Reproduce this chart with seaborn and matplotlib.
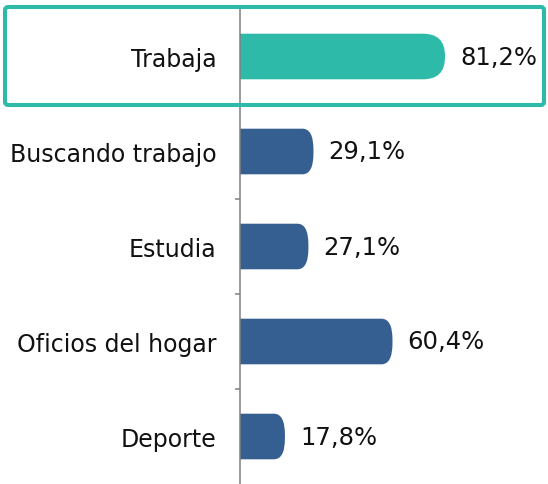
import matplotlib
matplotlib.use('Agg')
import matplotlib.pyplot as plt
import seaborn as sns
import pandas as pd
from matplotlib.patches import FancyBboxPatch
from matplotlib.ticker import FixedLocator
from matplotlib.transforms import IdentityTransform

categorias = ['Trabaja', 'Buscando trabajo', 'Estudia', 'Oficios del hogar', 'Deporte']
valores = [81.2, 29.1, 27.1, 60.4, 17.8]
etiquetas = ['81,2%', '29,1%', '27,1%', '60,4%', '17,8%']
colores = ['#2EBAA8', '#365F91', '#365F91', '#365F91', '#365F91']

sns.set_style('white')
plt.rcParams['font.family'] = ['DejaVu Sans']

df = pd.DataFrame({'cat': categorias, 'val': valores})

fig = plt.figure(figsize=(5.48, 4.85), dpi=100)
ax = fig.add_axes([240 / 548, 0, 308 / 548, 475 / 485])
sns.barplot(data=df, x='val', y='cat', hue='cat', palette=colores, saturation=1,
            legend=False, width=0.48, orient='h', ax=ax)
ax.set_xlim(0, 122)
ax.set_ylim(4.5, -0.5)

# pixel scale of the data units, for the rounded bar ends
sx = ax.transData.transform((1, 0))[0] - ax.transData.transform((0, 0))[0]
sy = abs(ax.transData.transform((0, 1))[1] - ax.transData.transform((0, 0))[1])

for p in list(ax.patches):
    x0, y0, w, h = p.get_x(), p.get_y(), p.get_width(), p.get_height()
    fc = p.get_facecolor()
    i = int(round(y0 + h / 2))
    p.remove()
    rx_px, ry_px = (22, 22) if i == 0 else (11, 21)
    rx, ry = rx_px / sx, ry_px / sy
    ax.add_patch(FancyBboxPatch((x0 - rx, y0), w + rx, h,
                                boxstyle=f'round,pad=0,rounding_size={rx}',
                                mutation_aspect=ry / rx, fc=fc, ec='none'))

for i, (v, t) in enumerate(zip(valores, etiquetas)):
    ax.annotate(t, xy=(v, i), xytext=(15, 0), textcoords='offset pixels',
                ha='left', va='center', fontsize=17.5, color='#111111')

ax.set_xlabel('')
ax.set_ylabel('')
ax.set_xticks([])
ax.tick_params(axis='y', which='major', length=0, pad=17, labelsize=17, labelcolor='#111111')
ax.yaxis.set_minor_locator(FixedLocator([0.5, 1.5, 2.5, 3.5]))
ax.tick_params(axis='y', which='minor', left=True, length=3.8, width=1.1, color='#808080')
for s in ['top', 'right', 'bottom']:
    ax.spines[s].set_visible(False)
ax.spines['left'].set_color('#808080')
ax.spines['left'].set_linewidth(1.1)

# highlight box around the first row
fig.add_artist(FancyBboxPatch((5, 485 - 106), 539, 98,
                              boxstyle='round,pad=0,rounding_size=3',
                              transform=IdentityTransform(), fill=False,
                              ec='#2EBAA8', lw=2.9))

fig.savefig('out.png', dpi=100)
